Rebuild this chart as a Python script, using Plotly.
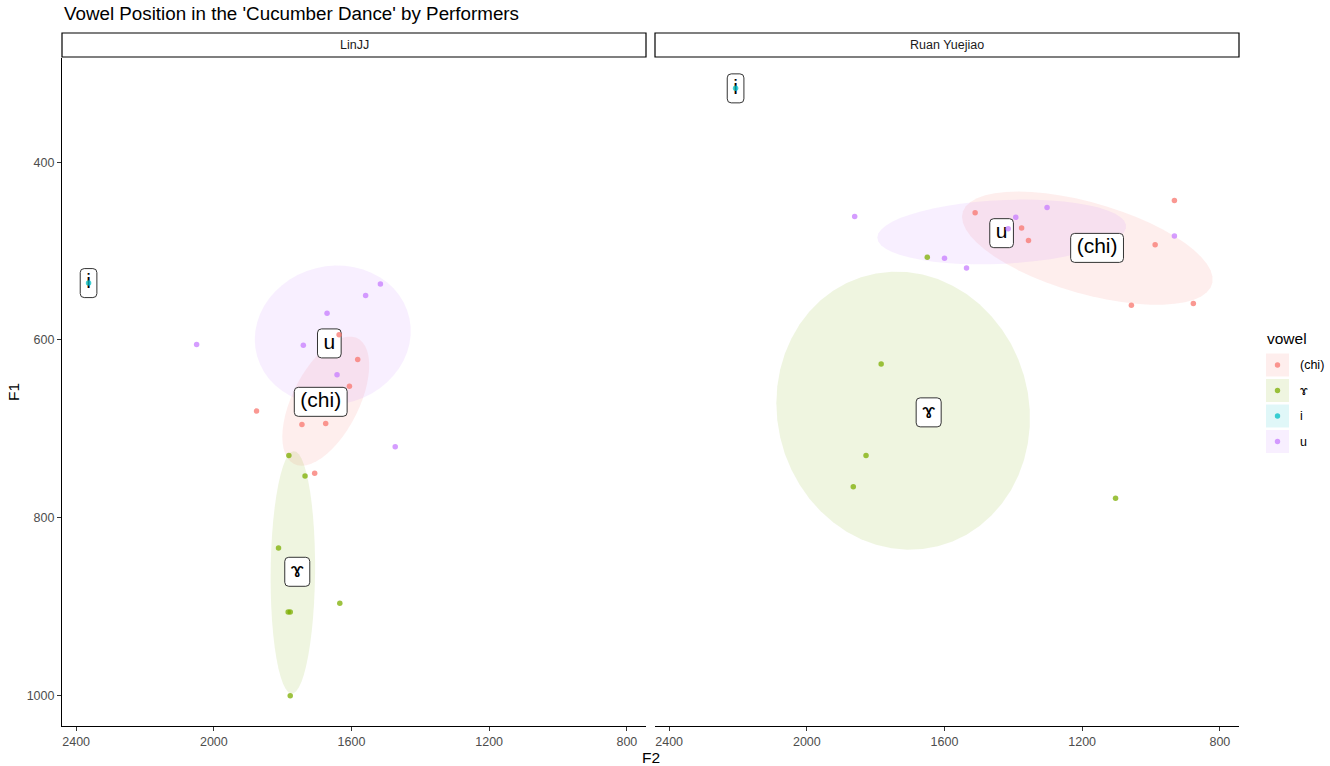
import numpy as np
import plotly.graph_objects as go

W, H = 1330, 766

VOWELS = ["(chi)", "ɤ", "i", "u"]
COLORS = {"(chi)": "#F8766D", "ɤ": "#7CAE00", "i": "#00BFC4", "u": "#C77CFF"}

# LinJJ
LIN_VOWEL = ["(chi)"] * 7 + ["ɤ"] * 7 + ["i"] + ["u"] * 7
LIN_F2 = [1636, 1582, 1606, 1876, 1744, 1675, 1707,
          1782, 1735, 1812, 1784, 1778, 1634, 1778,
          2364,
          1516, 1559, 1671, 2050, 1740, 1642, 1473]
LIN_F1 = [594, 622, 652, 680, 695, 694, 750,
          730, 753, 834, 906, 906, 896, 1000,
          536,
          537, 550, 570, 605, 606, 639, 720]

# Ruan Yuejiao
RUAN_VOWEL = ["(chi)"] * 7 + ["ɤ"] * 5 + ["i"] + ["u"] * 7
RUAN_F2 = [1511, 932, 1376, 1356, 988, 1057, 877,
           1650, 1784, 1828, 1865, 1103,
           2207,
           1861, 1393, 1302, 1415, 932, 1600, 1536]
RUAN_F1 = [457, 443, 474, 488, 493, 561, 559,
           507, 627, 730, 765, 778,
           317,
           461, 462, 451, 475, 483, 508, 519]

PANELS = [("LinJJ", LIN_VOWEL, LIN_F2, LIN_F1),
          ("Ruan Yuejiao", RUAN_VOWEL, RUAN_F2, RUAN_F1)]

ELLIPSE_LEVEL = 0.65

# panel boxes in pixels (left, right, top, bottom)
PANEL_PX = [(62, 646), (655, 1239)]
TOP, BOTTOM = 58, 726
FONT = "Liberation Sans, Arial, Helvetica, sans-serif"

CHAR_W = {"(": 0.333, ")": 0.333, "c": 0.5, "h": 0.556, "i": 0.222, "u": 0.556, "ɤ": 0.62}
LABEL_SIZE = 21


def px(x):
    return x / W


def py(y):
    return 1 - y / H


def hex_rgba(h, a):
    h = h.lstrip("#")
    r, g, b = int(h[0:2], 16), int(h[2:4], 16), int(h[4:6], 16)
    return f"rgba({r},{g},{b},{a})"


def cov_trob(x, nu=5, maxit=25, tol=0.01):
    # port of MASS::cov.trob, as used by stat_ellipse
    n, p = x.shape
    wt = np.ones(n)
    loc = x.mean(axis=0)
    w = np.sqrt(wt)
    for _ in range(maxit):
        w0 = w
        X = x - loc
        _, d, vh = np.linalg.svd(np.sqrt(w / w.sum())[:, None] * X, full_matrices=False)
        wX = X @ vh.T @ np.diag(1 / d)
        Q = (wX ** 2).sum(axis=1)
        w = wt * (nu + p) / (nu + Q)
        loc = (w[:, None] * x).sum(axis=0) / w.sum()
        if np.all(np.abs(w - w0) < tol):
            break
    sw = np.sqrt(w)[:, None] * X
    return sw.T @ sw / wt.sum(), loc


def ellipse(xs, ys, level=ELLIPSE_LEVEL, segments=51):
    x = np.column_stack([xs, ys]).astype(float)
    shape, center = cov_trob(x)
    d = len(xs) - 1
    qf = d / 2 * ((1 - level) ** (-2 / d) - 1)
    radius = np.sqrt(2 * qf)
    R = np.linalg.cholesky(shape).T
    ang = np.arange(segments + 1) * 2 * np.pi / segments
    circ = np.column_stack([np.cos(ang), np.sin(ang)])
    e = center + radius * (circ @ R)
    return e[:, 0], e[:, 1]


fig = go.Figure()
shapes = []
annotations = []

all_x, all_y = [], []
panel_items = []
for name, vowel, f2, f1 in PANELS:
    vowel = np.array(vowel)
    f2 = np.array(f2, float)
    f1 = np.array(f1, float)
    ells = {}
    for v in VOWELS:
        m = vowel == v
        if m.sum() >= 3:
            ex, ey = ellipse(f2[m], f1[m])
            ells[v] = (ex, ey)
            all_x += list(ex)
            all_y += list(ey)
    all_x += list(f2)
    all_y += list(f1)
    panel_items.append((name, vowel, f2, f1, ells))

xr = [min(all_x), max(all_x)]
yr = [min(all_y), max(all_y)]
xe = (xr[1] - xr[0]) * 0.05
ye = (yr[1] - yr[0]) * 0.05
x_range = [xr[1] + xe, xr[0] - xe]
y_range = [yr[1] + ye, yr[0] - ye]

for i, (name, vowel, f2, f1, ells) in enumerate(panel_items):
    xa = "x" if i == 0 else "x2"
    ya = "y" if i == 0 else "y2"
    # ellipses
    for v, (ex, ey) in ells.items():
        path = "M " + " L ".join(f"{a:.2f},{b:.2f}" for a, b in zip(ex, ey)) + " Z"
        shapes.append(dict(type="path", xref=xa, yref=ya, path=path, layer="below",
                           fillcolor=hex_rgba(COLORS[v], 0.12), line=dict(width=0)))
    # labels at group means
    lx, ly, lt = [], [], []
    for v in VOWELS:
        m = vowel == v
        mx, my = f2[m].mean(), f1[m].mean()
        lx.append(mx)
        ly.append(my)
        lt.append(v)
        bw = sum(CHAR_W.get(c, 0.55) for c in v) * LABEL_SIZE + 12
        bh, r = 29, 4
        hw, hh = bw / 2, bh / 2
        p = (f"M {-hw + r},{-hh} L {hw - r},{-hh} Q {hw},{-hh} {hw},{-hh + r} "
             f"L {hw},{hh - r} Q {hw},{hh} {hw - r},{hh} L {-hw + r},{hh} "
             f"Q {-hw},{hh} {-hw},{hh - r} L {-hw},{-hh + r} Q {-hw},{-hh} {-hw + r},{-hh} Z")
        shapes.append(dict(type="path", xref=xa, yref=ya, xsizemode="pixel", ysizemode="pixel",
                           xanchor=mx, yanchor=my, path=p, layer="below",
                           fillcolor="white", line=dict(color="#333333", width=1)))
    fig.add_trace(go.Scatter(x=lx, y=ly, text=lt, mode="text", xaxis=xa, yaxis=ya,
                             textposition="middle center", showlegend=False, hoverinfo="skip",
                             textfont=dict(size=LABEL_SIZE, color="black", family=FONT)))
    # points
    fig.add_trace(go.Scatter(x=f2, y=f1, mode="markers", xaxis=xa, yaxis=ya, showlegend=False,
                             marker=dict(size=5.5, color=[COLORS[v] for v in vowel], opacity=0.75,
                                         line=dict(width=0))))

    # strip
    l, rr = PANEL_PX[i]
    shapes.append(dict(type="rect", xref="paper", yref="paper", x0=px(l), x1=px(rr),
                       y0=py(57), y1=py(33), line=dict(color="black", width=1.2),
                       fillcolor="white", layer="above"))
    annotations.append(dict(xref="paper", yref="paper", x=px((l + rr) / 2), y=py(45),
                            text=name, showarrow=False, xanchor="center", yanchor="middle",
                            font=dict(size=12.5, color="#1a1a1a", family=FONT)))

axis_common = dict(showgrid=False, zeroline=False, showline=True, linecolor="black",
                   linewidth=1.1, ticks="outside", ticklen=4, tickcolor="#333333",
                   tickfont=dict(size=12.5, color="#4d4d4d", family=FONT))

fig.update_layout(
    width=W, height=H,
    margin=dict(l=0, r=0, t=0, b=0),
    paper_bgcolor="white", plot_bgcolor="white",
    showlegend=False,
    xaxis=dict(domain=[px(62), px(646)], range=x_range, anchor="y",
               tickvals=[2400, 2000, 1600, 1200, 800], **axis_common),
    xaxis2=dict(domain=[px(655), px(1239)], range=x_range, anchor="y2",
                tickvals=[2400, 2000, 1600, 1200, 800], **axis_common),
    yaxis=dict(domain=[py(BOTTOM), py(TOP)], range=y_range, anchor="x",
               tickvals=[400, 600, 800, 1000], **axis_common),
    yaxis2=dict(domain=[py(BOTTOM), py(TOP)], range=y_range, anchor="x2",
                tickvals=[400, 600, 800, 1000], showticklabels=False, showline=False,
                ticks="", showgrid=False, zeroline=False),
)

# titles
annotations.append(dict(xref="paper", yref="paper", x=px(62), y=py(14), xanchor="left",
                        yanchor="middle", showarrow=False,
                        text="Vowel Position in the 'Cucumber Dance' by Performers",
                        font=dict(size=18.8, color="black", family=FONT)))
annotations.append(dict(xref="paper", yref="paper", x=px(651), y=py(757), showarrow=False,
                        text="F2", xanchor="center", yanchor="middle",
                        font=dict(size=15.5, color="black", family=FONT)))
annotations.append(dict(xref="paper", yref="paper", x=px(13), y=py(392), showarrow=False,
                        text="F1", textangle=-90, xanchor="center", yanchor="middle",
                        font=dict(size=15.5, color="black", family=FONT)))

# legend
annotations.append(dict(xref="paper", yref="paper", x=px(1265), y=py(338), showarrow=False,
                        text="vowel", xanchor="left", yanchor="middle",
                        font=dict(size=15.5, color="black", family=FONT)))
key_y = [365, 390.5, 416, 441.5]
for v, ky in zip(VOWELS, key_y):
    shapes.append(dict(type="rect", xref="paper", yref="paper", x0=px(1266), x1=px(1289),
                       y0=py(ky + 11.5), y1=py(ky - 11.5), line=dict(width=0),
                       fillcolor=hex_rgba(COLORS[v], 0.12)))
    shapes.append(dict(type="circle", xref="paper", yref="paper", x0=px(1277.5 - 2.7),
                       x1=px(1277.5 + 2.7), y0=py(ky + 2.7), y1=py(ky - 2.7),
                       line=dict(width=0), fillcolor=hex_rgba(COLORS[v], 0.75)))
    annotations.append(dict(xref="paper", yref="paper", x=px(1298), y=py(ky), showarrow=False,
                            text=v, xanchor="left", yanchor="middle",
                            font=dict(size=12.5, color="black", family=FONT)))

fig.update_layout(shapes=shapes, annotations=annotations)
# drop the default page margin so the figure fills the window exactly
fig.write_html("out.html", config={"displayModeBar": False},
               post_script="document.body.style.margin='0';document.body.style.overflow='hidden';")
